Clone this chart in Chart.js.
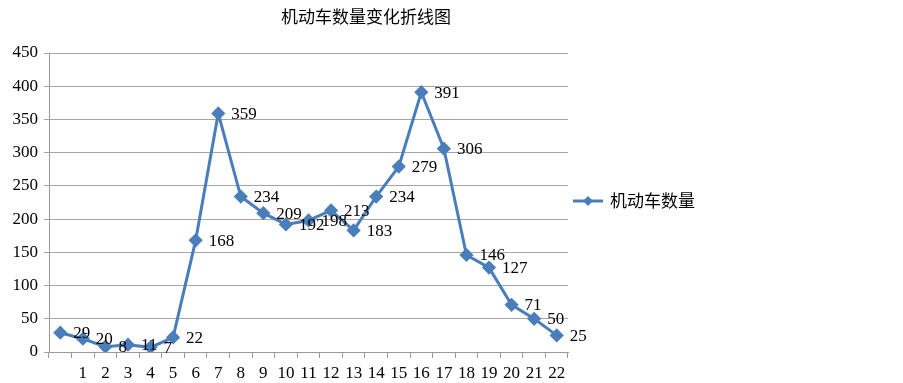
<!DOCTYPE html>
<html>
<head>
<meta charset="utf-8">
<script src="https://cdn.jsdelivr.net/npm/chart.js@4"></script>
<style>
    html, body { margin: 0; padding: 0; background: #ffffff; }
    #wrap { width: 903px; height: 383px; }
</style>
</head>
<body>
<div id="wrap"><canvas id="char_vehicle" width="903" height="383"></canvas></div>
<script>
var titleText = "机动车数量变化折线图";
var seriesName = "机动车数量";
var categories = ["", "1", "2", "3", "4", "5", "6", "7", "8", "9", "10", "11",
    "12", "13", "14", "15", "16", "17", "18", "19", "20", "21", "22"];
var vehicleCounts = [29, 20, 8, 11, 7, 22, 168, 359, 234, 209, 192, 198,
    213, 183, 234, 279, 391, 306, 146, 127, 71, 50, 25];
var yTicks = [0, 50, 100, 150, 200, 250, 300, 350, 400, 450];

var lineColor = "#4a7ebb";
var serif = "'Liberation Serif', 'DejaVu Serif', serif";
var cjk = "'Noto Sans CJK SC', sans-serif";

// value labels, title and legend drawn by hand
var extrasPlugin = {
    id: "extras",
    afterDatasetsDraw: function (chart) {
        var ctx = chart.ctx;
        var meta = chart.getDatasetMeta(0);
        ctx.save();
        ctx.fillStyle = "#000000";
        ctx.font = "17px " + serif;
        ctx.textAlign = "left";
        ctx.textBaseline = "middle";
        meta.data.forEach(function (pt, i) {
            ctx.fillText(String(vehicleCounts[i]), pt.x + 13, pt.y + 1);
        });

        // title
        ctx.font = "17px " + cjk;
        ctx.textAlign = "center";
        ctx.fillText(titleText, 366, 17);

        // legend
        var ly = 201;
        ctx.strokeStyle = lineColor;
        ctx.lineWidth = 3;
        ctx.beginPath();
        ctx.moveTo(573, ly);
        ctx.lineTo(603, ly);
        ctx.stroke();
        ctx.fillStyle = lineColor;
        ctx.beginPath();
        ctx.moveTo(588, ly - 5);
        ctx.lineTo(593, ly);
        ctx.lineTo(588, ly + 5);
        ctx.lineTo(583, ly);
        ctx.closePath();
        ctx.fill();
        ctx.fillStyle = "#000000";
        ctx.textAlign = "left";
        ctx.font = "17px " + cjk;
        ctx.fillText(seriesName, 610, ly);
        ctx.restore();
    }
};

var chartEl = document.getElementById("char_vehicle");
if (chartEl != null) {
    var vehicleCtx = chartEl.getContext("2d");
    var myVehicleChart = new Chart(vehicleCtx, {
        type: "line",
        data: {
            labels: categories,
            datasets: [
                {
                    label: seriesName,
                    data: vehicleCounts,
                    borderColor: lineColor,
                    backgroundColor: lineColor,
                    borderWidth: 3,
                    pointStyle: "rectRot",
                    pointRadius: 5,
                    pointHoverRadius: 5,
                    tension: 0,
                },
            ],
        },
        plugins: [extrasPlugin],
        options: {
            responsive: false,
            animation: false,
            layout: {
                padding: { left: 0, right: 335, top: 53, bottom: 0 },
            },
            plugins: {
                legend: { display: false },
                title: { display: false },
                tooltip: { enabled: false },
            },
            scales: {
                x: {
                    offset: true,
                    afterFit: function (scale) { scale.height = 31; },
                    grid: {
                        display: true,
                        offset: true,
                        drawOnChartArea: false,
                        drawTicks: true,
                        tickLength: 6,
                        color: "#9a9a9a",
                    },
                    border: { display: true, color: "#9a9a9a", width: 1 },
                    ticks: {
                        color: "#000000",
                        font: { family: serif, size: 17 },
                        maxRotation: 0,
                        autoSkip: false,
                        padding: 5,
                    },
                },
                y: {
                    min: 0,
                    max: 450,
                    afterFit: function (scale) { scale.width = 49; },
                    afterBuildTicks: function (scale) {
                        scale.ticks = yTicks.map(function (v) { return { value: v }; });
                    },
                    grid: {
                        display: true,
                        color: "#a6a6a6",
                        drawTicks: true,
                        tickLength: 5,
                    },
                    border: { display: true, color: "#9a9a9a", width: 1 },
                    ticks: {
                        color: "#000000",
                        font: { family: serif, size: 17 },
                        padding: 6,
                    },
                },
            },
        },
    });
}
</script>
</body>
</html>
